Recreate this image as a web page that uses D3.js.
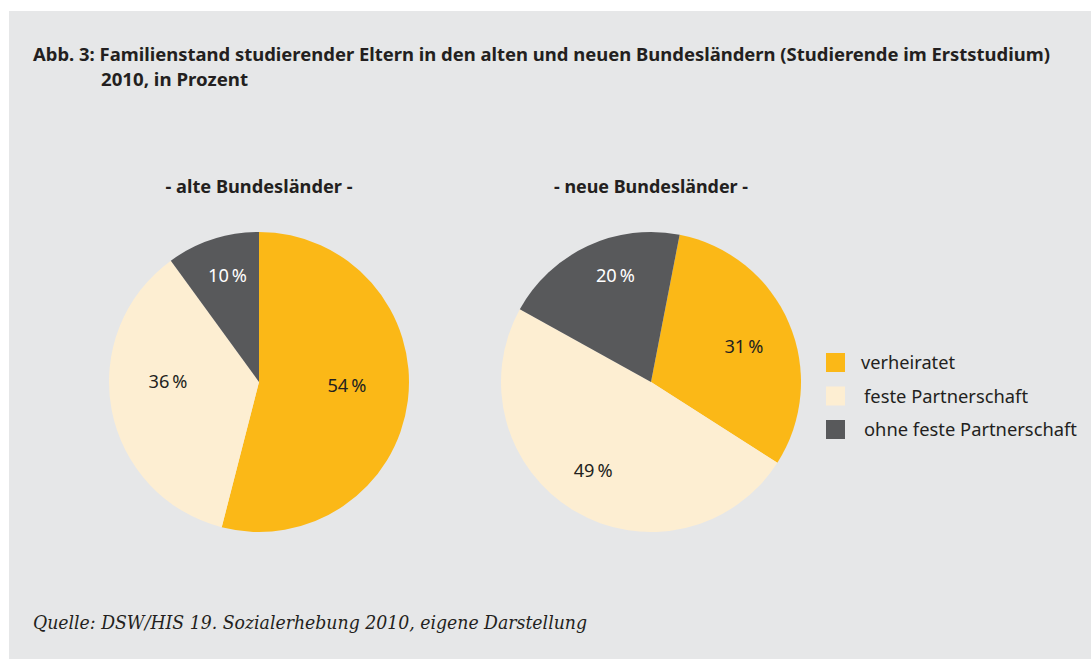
<!DOCTYPE html>
<html><head><meta charset="utf-8">
<script src="https://cdn.jsdelivr.net/npm/d3@7"></script>
<style>body{margin:0;background:#fff;} svg{display:block;}</style>
</head><body>
<svg id="chart" width="1091" height="659"></svg>
<script>
const categories = ["verheiratet", "feste Partnerschaft", "ohne feste Partnerschaft"];
const regions = ["- alte Bundesländer -", "- neue Bundesländer -"];
const valuesAlt = [54, 36, 10];
const valuesNeu = [31, 49, 20];
const colors = ["#fbb817", "#fdeed2", "#58595b"];
const labelColors = ["#231f20", "#231f20", "#ffffff"];

const svg = d3.select("#chart");
const W = 1091, H = 659;
svg.append("rect").attr("x", 9).attr("y", 11).attr("width", W - 9).attr("height", H - 11).attr("fill", "#e6e7e8");

const sans = "'Noto Sans', 'Open Sans', sans-serif";
svg.append("text").attr("x", 33).attr("y", 61)
  .attr("font-family", sans).attr("font-weight", 700).attr("font-size", 18.5).attr("fill", "#231f20")
  .attr("textLength", 1017).attr("lengthAdjust", "spacingAndGlyphs")
  .text("Abb. 3: Familienstand studierender Eltern in den alten und neuen Bundesländern (Studierende im Erststudium)");
svg.append("text").attr("x", 101).attr("y", 86)
  .attr("font-family", sans).attr("font-weight", 700).attr("font-size", 18.5).attr("fill", "#231f20")
  .attr("textLength", 147).attr("lengthAdjust", "spacingAndGlyphs")
  .text("2010, in Prozent");

// label placement: radius and angular shift (degrees) from each slice's mid-angle
const pies = [
  {values: valuesAlt, cx: 259, startDeg: 0, labelR: [88, 91, 111], labelShift: [-4.9, 11.4, 1.5], title: regions[0], titleLen: 187},
  {values: valuesNeu, cx: 651, startDeg: 11, labelR: [99.5, 106, 112.7], labelShift: [2.3, 2.3, 6.6], title: regions[1], titleLen: 194}
];
const cy = 382, R = 150;
const arc = d3.arc().innerRadius(0).outerRadius(R);

pies.forEach(p => {
  const g = svg.append("g").attr("transform", `translate(${p.cx},${cy})`);
  const start = p.startDeg * Math.PI / 180;
  const pie = d3.pie().sort(null).startAngle(start).endAngle(start + 2 * Math.PI);
  const arcs = pie(p.values);
  g.selectAll("path").data(arcs).join("path")
    .attr("d", arc).attr("fill", (d, i) => colors[i]);
  const pos = (d, i) => {
    const a = (d.startAngle + d.endAngle) / 2 + p.labelShift[i] * Math.PI / 180;
    return [Math.sin(a) * p.labelR[i], -Math.cos(a) * p.labelR[i]];
  };
  g.selectAll("text.lbl").data(arcs).join("text").attr("class", "lbl")
    .attr("x", (d, i) => pos(d, i)[0])
    .attr("y", (d, i) => pos(d, i)[1])
    .attr("dy", "0.36em").attr("text-anchor", "middle")
    .attr("font-family", sans).attr("font-size", 18).attr("fill", (d, i) => labelColors[i])
    .attr("textLength", 39).attr("lengthAdjust", "spacingAndGlyphs")
    .text(d => d.data + "\u2009%");
  svg.append("text").attr("x", p.cx).attr("y", 193).attr("text-anchor", "middle")
    .attr("font-family", sans).attr("font-weight", 700).attr("font-size", 18).attr("fill", "#231f20")
    .attr("textLength", p.titleLen).attr("lengthAdjust", "spacingAndGlyphs")
    .text(p.title);
});

const legY = d3.scalePoint().domain(categories).range([362.5, 429.5]);
const legLen = [94, 164, 213];
const leg = svg.append("g");
categories.forEach((c, i) => {
  leg.append("rect").attr("x", 826).attr("y", legY(c) - 9.5).attr("width", 19).attr("height", 19).attr("fill", colors[i]);
  leg.append("text").attr("x", i === 0 ? 861 : 864).attr("y", legY(c)).attr("dy", "0.36em")
    .attr("font-family", sans).attr("font-size", 18.3).attr("fill", "#231f20")
    .attr("textLength", legLen[i]).attr("lengthAdjust", "spacingAndGlyphs")
    .text(c);
});

svg.append("text").attr("x", 33).attr("y", 629)
  .attr("font-family", "'DejaVu Serif', 'Liberation Serif', serif").attr("font-style", "italic")
  .attr("font-size", 18.5).attr("fill", "#231f20")
  .attr("textLength", 554).attr("lengthAdjust", "spacingAndGlyphs")
  .text("Quelle: DSW/HIS 19. Sozialerhebung 2010, eigene Darstellung");
</script>
</body></html>
